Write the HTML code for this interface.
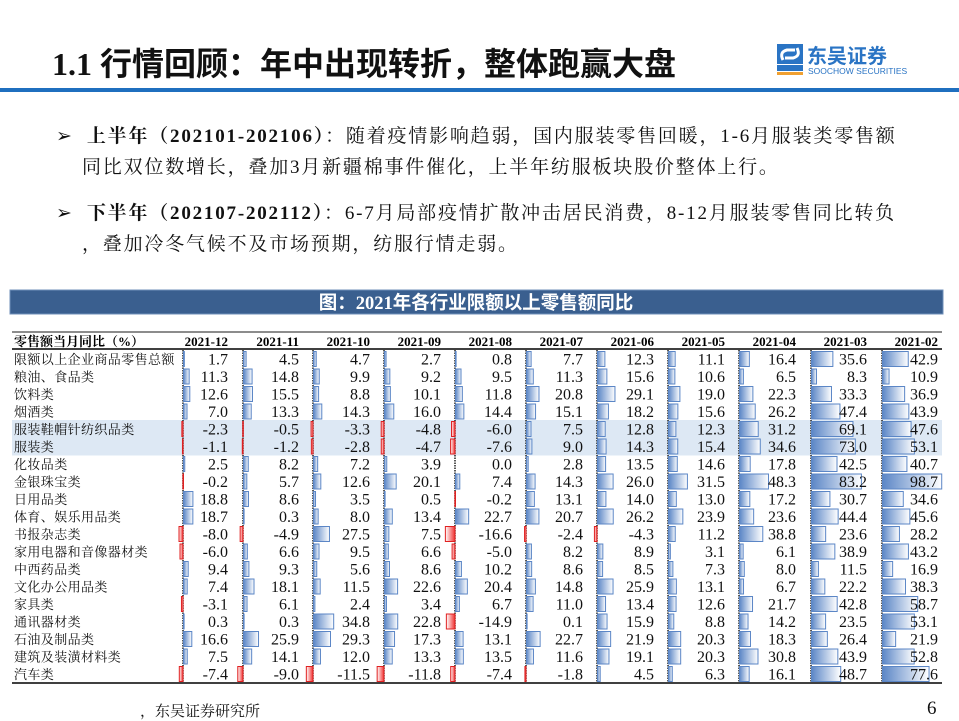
<!DOCTYPE html>
<html><head><meta charset="utf-8">
<style>
body{margin:0;width:959px;height:719px;background:#fff;overflow:hidden;position:relative;font-family:"Liberation Serif","Noto Serif CJK SC",serif;}
.abs{position:absolute;}
#title{left:52px;top:39px;font-family:"Liberation Serif","Noto Sans CJK SC",sans-serif;font-weight:bold;font-size:32px;color:#111;white-space:nowrap;}
#rule{left:0;top:88px;width:959px;height:4px;background:#1f6fbf;}
.para{left:56px;font-size:19px;color:#111;line-height:31px;width:900px;white-space:nowrap;letter-spacing:1.8px;}
.para b{font-weight:bold;}
</style></head><body>
<div class="abs" id="title">1.1 行情回顾：年中出现转折，整体跑赢大盘</div>
<div class="abs" style="left:777px;top:44px;width:135px;height:32px;">
 <svg width="135" height="32">
  <rect x="0" y="0" width="26" height="20" fill="#2a74c4"/>
  <path d="M6 16 Q2 8 10 6 L18 6 M20 4 Q24 12 16 14 L8 14" stroke="#fff" stroke-width="3" fill="none"/>
  <rect x="0" y="21" width="26" height="6" fill="#2a74c4"/>
  <rect x="0" y="28" width="26" height="3" fill="#f0a030"/>
  <text x="30" y="19" font-family="Noto Sans CJK SC,sans-serif" font-weight="bold" font-size="20" fill="#2a74c4">东吴证券</text>
  <text x="31" y="30" font-family="Liberation Sans,sans-serif" font-size="8.5" fill="#2a74c4">SOOCHOW SECURITIES</text>
 </svg>
</div>
<div class="abs" id="rule"></div>
<div class="abs para" style="top:121px">➢&nbsp; <b>上半年（202101-202106）</b>：随着疫情影响趋弱，国内服装零售回暖，1-6月服装类零售额<br><span style="padding-left:26px">同比双位数增长，叠加3月新疆棉事件催化，上半年纺服板块股价整体上行。</span></div>
<div class="abs para" style="top:198px">➢&nbsp; <b>下半年（202107-202112）</b>：6-7月局部疫情扩散冲击居民消费，8-12月服装零售同比转负<br><span style="padding-left:26px">，叠加冷冬气候不及市场预期，纺服行情走弱。</span></div>

<svg class="abs" style="left:0;top:0" width="959" height="719">
 <defs>
  <linearGradient id="gb" x1="0" x2="1"><stop offset="0" stop-color="#5b86c6"/><stop offset="1" stop-color="#fff"/></linearGradient>
  <linearGradient id="gr" x1="1" x2="0"><stop offset="0" stop-color="#f03030"/><stop offset="1" stop-color="#fff"/></linearGradient>
 </defs>
 <g id="g"></g>
</svg>
<div class="abs" style="left:140px;top:700px;font-size:15px;color:#111">，东吴证券研究所</div>
<div class="abs" style="left:927px;top:698px;font-size:19px;color:#111">6</div>
<script>
const categories=["限额以上企业商品零售总额","粮油、食品类","饮料类","烟酒类","服装鞋帽针纺织品类","服装类","化妆品类","金银珠宝类","日用品类","体育、娱乐用品类","书报杂志类","家用电器和音像器材类","中西药品类","文化办公用品类","家具类","通讯器材类","石油及制品类","建筑及装潢材料类","汽车类"];
const months=["2021-12","2021-11","2021-10","2021-09","2021-08","2021-07","2021-06","2021-05","2021-04","2021-03","2021-02"];
const d202112=[1.7,11.3,12.6,7.0,-2.3,-1.1,2.5,-0.2,18.8,18.7,-8.0,-6.0,9.4,7.4,-3.1,0.3,16.6,7.5,-7.4];
const d202111=[4.5,14.8,15.5,13.3,-0.5,-1.2,8.2,5.7,8.6,0.3,-4.9,6.6,9.3,18.1,6.1,0.3,25.9,14.1,-9.0];
const d202110=[4.7,9.9,8.8,14.3,-3.3,-2.8,7.2,12.6,3.5,8.0,27.5,9.5,5.6,11.5,2.4,34.8,29.3,12.0,-11.5];
const d202109=[2.7,9.2,10.1,16.0,-4.8,-4.7,3.9,20.1,0.5,13.4,7.5,6.6,8.6,22.6,3.4,22.8,17.3,13.3,-11.8];
const d202108=[0.8,9.5,11.8,14.4,-6.0,-7.6,0.0,7.4,-0.2,22.7,-16.6,-5.0,10.2,20.4,6.7,-14.9,13.1,13.5,-7.4];
const d202107=[7.7,11.3,20.8,15.1,7.5,9.0,2.8,14.3,13.1,20.7,-2.4,8.2,8.6,14.8,11.0,0.1,22.7,11.6,-1.8];
const d202106=[12.3,15.6,29.1,18.2,12.8,14.3,13.5,26.0,14.0,26.2,-4.3,8.9,8.5,25.9,13.4,15.9,21.9,19.1,4.5];
const d202105=[11.1,10.6,19.0,15.6,12.3,15.4,14.6,31.5,13.0,23.9,11.2,3.1,7.3,13.1,12.6,8.8,20.3,20.3,6.3];
const d202104=[16.4,6.5,22.3,26.2,31.2,34.6,17.8,48.3,17.2,23.6,38.8,6.1,8.0,6.7,21.7,14.2,18.3,30.8,16.1];
const d202103=[35.6,8.3,33.3,47.4,69.1,73.0,42.5,83.2,30.7,44.4,23.6,38.9,11.5,22.2,42.8,23.5,26.4,43.9,48.7];
const d202102=[42.9,10.9,36.9,43.9,47.6,53.1,40.7,98.7,34.6,45.6,28.2,43.2,16.9,38.3,58.7,53.1,21.9,52.8,77.6];
const series=[d202112,d202111,d202110,d202109,d202108,d202107,d202106,d202105,d202104,d202103,d202102];
const highlighted=[4,5];

const NS="http://www.w3.org/2000/svg";
const g=document.getElementById('g');
function mk(t,a,txt){const e=document.createElementNS(NS,t);for(const k in a)e.setAttribute(k,a[k]);if(txt!==undefined)e.textContent=txt;g.appendChild(e);return e;}
const axisX=[183,243,313,384,455,526,597,668,739,811,882];
const pxPerUnit=[0.5,0.58,0.58,0.58,0.58,0.6,0.6,0.6,0.6,0.6,0.6];
const rowY=i=>359+i*17.5;
const textRight=j=>228+j*71;
const barLen=(j,v)=>v*pxPerUnit[j];

let e;
e=mk('rect',{x:10,y:290,width:933,height:24,fill:'#3a5f8f',stroke:'#6f8fb8'});


e=mk('text',{x:476,y:309,'text-anchor':'middle','font-size':18.5,'font-weight':'bold',fill:'#fff','font-family':'Liberation Serif,Noto Sans CJK SC,sans-serif'},'图：2021年各行业限额以上零售额同比');


highlighted.forEach(i=>{
 e=mk('rect',{x:12,y:rowY(i)-9,width:930,height:18,fill:'#dde8f4'});
 
 
});
e=mk('line',{x1:12,x2:942,y1:332,y2:332,stroke:'#666','stroke-width':1.5});


e=mk('line',{x1:12,x2:942,y1:349,y2:349,stroke:'#000','stroke-width':1.5});


e=mk('line',{x1:12,x2:942,y1:683,y2:683,stroke:'#000','stroke-width':1.5});


e=mk('text',{x:14,y:346,'font-size':13,'font-weight':'bold','font-family':'Liberation Serif,Noto Serif CJK SC,serif'},'零售额当月同比（%）');


months.forEach((m,j)=>{
 e=mk('text',{x:textRight(j),y:346,'text-anchor':'end','font-size':13,'font-weight':'bold'},m);
 
 
 e=mk('line',{x1:axisX[j],x2:axisX[j],y1:350,y2:682,stroke:'#222','stroke-width':1.5,'stroke-dasharray':'1.5 1'});
 
 
});
categories.forEach((c,i)=>{
 e=mk('text',{x:14,y:rowY(i)+5,'font-size':13,'letter-spacing':'0.4',fill:'#111','font-family':'Liberation Serif,Noto Serif CJK SC,serif'},c);
 
 
 series.forEach((s,j)=>{
  const v=s[i],L=barLen(j,v);
  if(v!==0){
   const neg=v<0;
   e=mk('rect',{x:neg?axisX[j]+L:axisX[j]+0.5,y:rowY(i)-7.5,width:Math.max(Math.abs(L),0.6),height:15,fill:neg?'url(#gr)':'url(#gb)',stroke:neg?'#e02020':'#5b86c6','stroke-width':1});
   
   
  }
  e=mk('text',{x:textRight(j),y:rowY(i)+5.5,'text-anchor':'end','font-size':16,fill:'#111'},v.toFixed(1));
  
  
 });
});
</script>
</body></html>
